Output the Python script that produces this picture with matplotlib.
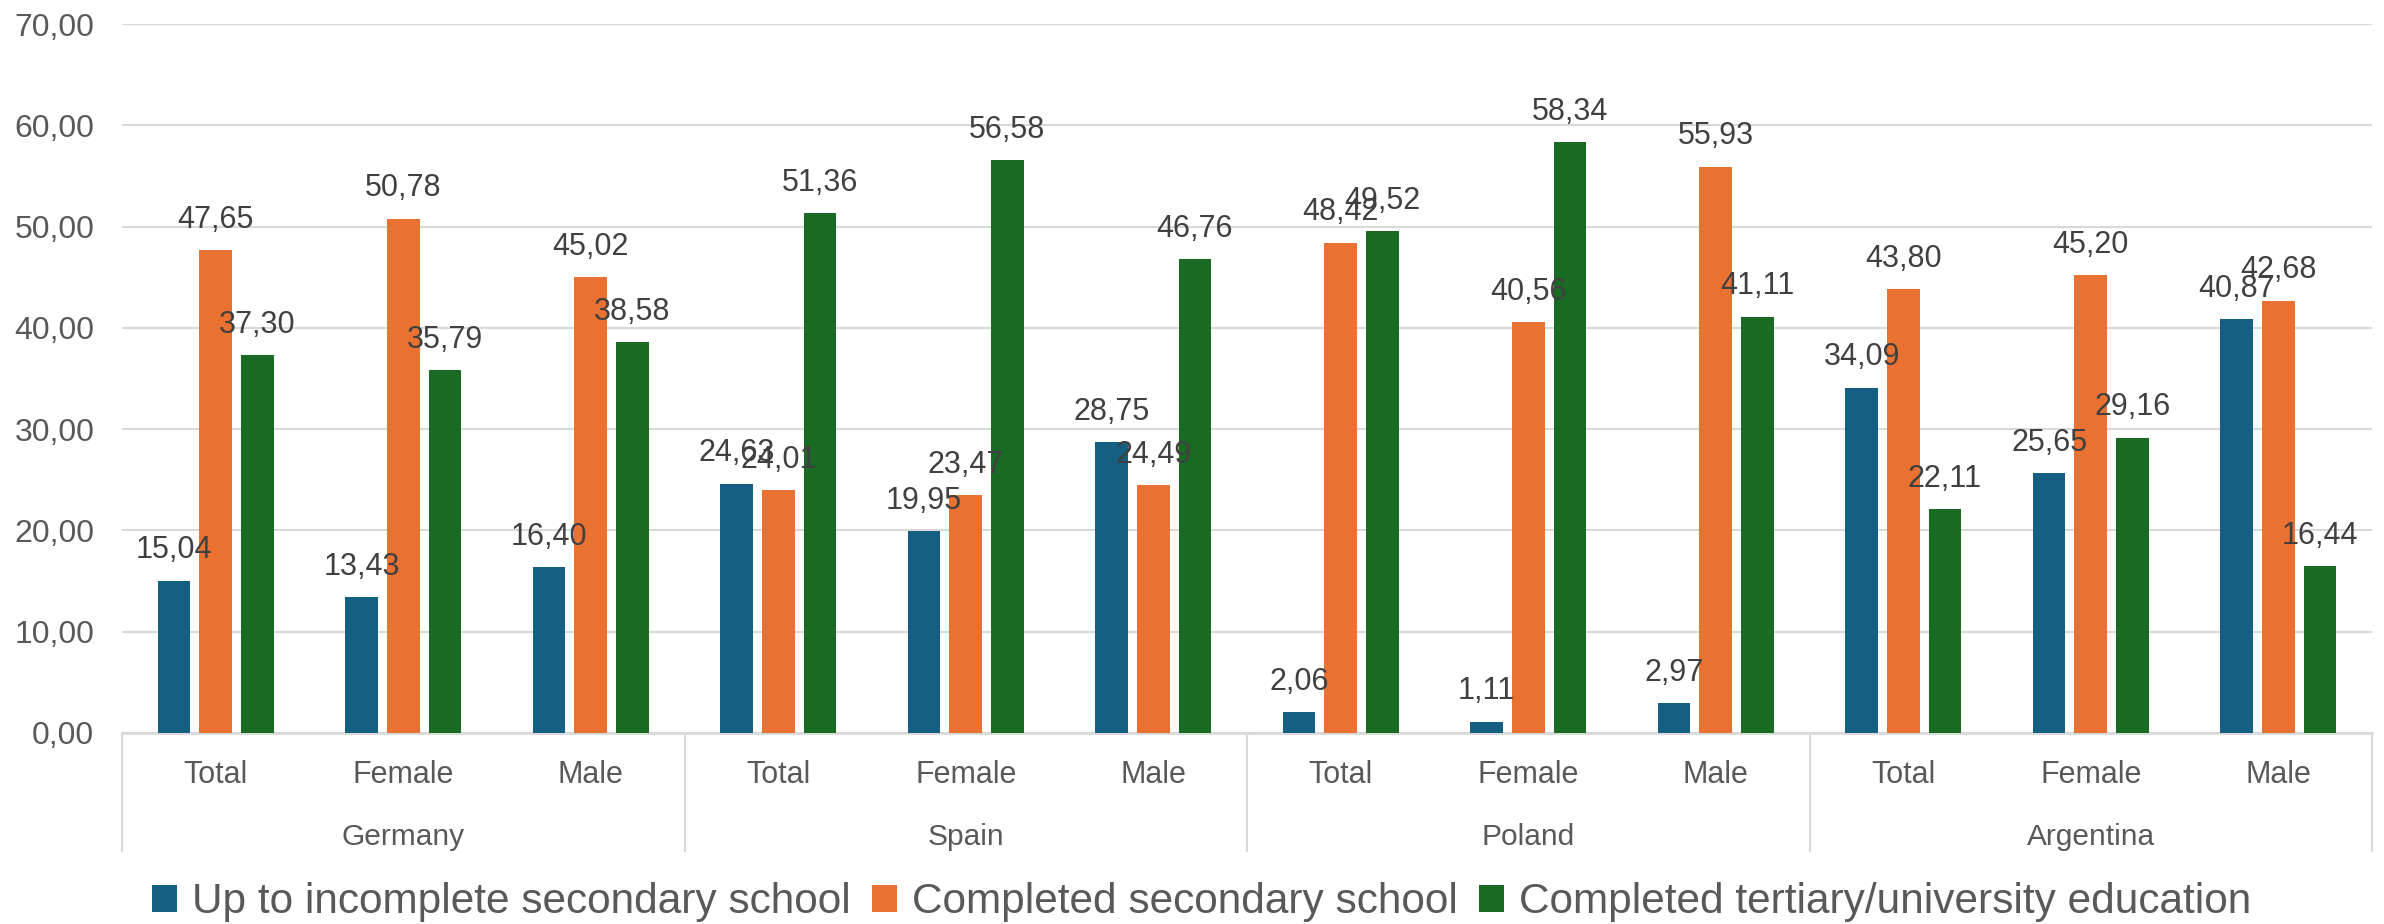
import matplotlib
matplotlib.use("Agg")
import numpy as np
import matplotlib.pyplot as plt
from matplotlib.patches import Patch
from matplotlib.ticker import FuncFormatter, MultipleLocator
from matplotlib.transforms import blended_transform_factory

DPI = 100

countries = ["Germany", "Spain", "Poland", "Argentina"]
groups = ["Total", "Female", "Male"]
series_names = [
    "Up to incomplete secondary school",
    "Completed secondary school",
    "Completed tertiary/university education",
]
# one entry per (country, group), in order
incomplete_secondary = [15.04, 13.43, 16.40, 24.63, 19.95, 28.75,
                        2.06, 1.11, 2.97, 34.09, 25.65, 40.87]
completed_secondary = [47.65, 50.78, 45.02, 24.01, 23.47, 24.49,
                       48.42, 40.56, 55.93, 43.80, 45.20, 42.68]
completed_tertiary = [37.30, 35.79, 38.58, 51.36, 56.58, 46.76,
                      49.52, 58.34, 41.11, 22.11, 29.16, 16.44]

colors = ["#156082", "#E97132", "#196B24"]
grid_color = "#D9D9D9"
tick_color = "#595959"
label_color = "#404040"

plt.rcParams["font.family"] = ["Liberation Sans", "DejaVu Sans"]


def comma_fmt(v, _pos=None):
    return f"{v:.2f}".replace(".", ",")


fig = plt.figure(figsize=(2384 / DPI, 924 / DPI), dpi=DPI, facecolor="white")
W, H = 2384, 924
ax_left, ax_right = 122, 2372
ax_top, ax_bottom = 24, 733
ax = fig.add_axes([ax_left / W, 1 - ax_bottom / H,
                   (ax_right - ax_left) / W, (ax_bottom - ax_top) / H])

n = len(incomplete_secondary)
x = np.arange(n)
step = 0.222
width = 0.174
all_series = [incomplete_secondary, completed_secondary, completed_tertiary]

for i, (vals, col) in enumerate(zip(all_series, colors)):
    pos = x + (i - 1) * step
    ax.bar(pos, vals, width=width, color=col, zorder=3, linewidth=0)
    for px, v in zip(pos, vals):
        ax.annotate(comma_fmt(v), (px, v), xytext=(0, 11),
                    textcoords="offset points", ha="center", va="bottom",
                    fontsize=22, color=label_color, zorder=4)

ax.set_xlim(-0.5, n - 0.5)
ax.set_ylim(0, 70)
ax.yaxis.set_major_locator(MultipleLocator(10))
ax.yaxis.set_major_formatter(FuncFormatter(comma_fmt))
ax.grid(axis="y", color=grid_color, linewidth=1.5, zorder=0)
for s in ["top", "right", "left"]:
    ax.spines[s].set_visible(False)
ax.spines["bottom"].set_color(grid_color)
ax.spines["bottom"].set_linewidth(2)
ax.tick_params(axis="y", length=0, pad=20, labelsize=23, labelcolor=tick_color)
ax.set_xticks([])

# two-level category axis below the plot
trans = blended_transform_factory(ax.transData, ax.transAxes)
axis_h = ax_bottom - ax_top
sep_depth = -(851 - ax_bottom) / axis_h
for k in range(len(countries) + 1):
    xb = k * len(groups) - 0.5
    ax.plot([xb, xb], [0, sep_depth], transform=trans, color=grid_color,
            linewidth=1.5, clip_on=False)

for j in range(n):
    ax.text(x[j], -(42 / axis_h), groups[j % len(groups)], transform=trans,
            ha="center", va="center", fontsize=22, color=tick_color)
for k, c in enumerate(countries):
    ax.text(k * len(groups) + 1, -(104 / axis_h), c, transform=trans,
            ha="center", va="center", fontsize=21.5, color=tick_color)

handles = [Patch(facecolor=c, edgecolor="none") for c in colors]
fig.legend(handles, series_names, loc="center", bbox_to_anchor=(0.504, 1 - 902 / H),
           ncol=3, frameon=False, fontsize=30.5, labelcolor=tick_color,
           handlelength=0.6, handleheight=0.6, handletextpad=0.35,
           columnspacing=0.5, borderpad=0)

fig.savefig("out.png", dpi=DPI, facecolor="white")
